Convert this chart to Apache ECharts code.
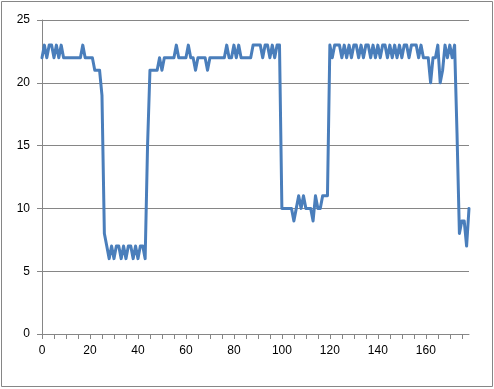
<!DOCTYPE html>
<html>
<head>
<meta charset="utf-8">
<script src="https://cdn.jsdelivr.net/npm/echarts@6/dist/echarts.min.js"></script>
<style>
html,body{margin:0;padding:0;background:#fff;}
#c{width:494px;height:389px;}
</style>
</head>
<body>
<div id="c"></div>
<script>
// category labels 0..178
const categories = [];
for (let i = 0; i <= 178; i++) categories.push(String(i));

// series values
const seg1 = [22,23,22,23,23,22,23,22,23,22, 22,22,22,22,22,22,22,23,22,22, 22,22,21,21,21,19,8,7,6,7];
const seg2 = [6,7,7,6,7,6,7,7,6,7, 6,7,7,6,15,21,21,21,21,22, 21,22,22,22,22,22,23,22,22,22];
const seg3 = [22,23,22,22,21,22,22,22,22,21, 22,22,22,22,22,22,22,23,22,22, 23,22,23,22,22,22,22,22,23,23];
const seg4 = [23,23,22,23,23,22,23,22,23,23, 10,10,10,10,10,9,10,11,10,11, 10,10,10,9,11,10,10,11,11,11];
const seg5 = [23,22,23,23,23,22,23,22,23,22, 23,23,22,23,22,23,23,22,23,22, 23,22,23,23,22,23,22,23,22,23];
const seg6 = [22,23,23,22,23,23,23,22,23,22, 22,22,20,22,22,23,20,21,23,22, 23,22,23,16,8,9,9,7,10];
const values = [].concat(seg1, seg2, seg3, seg4, seg5, seg6);

const yTicks = { min: 0, max: 25, interval: 5 };

const chart = echarts.init(document.getElementById('c'), null, {renderer: 'canvas'});
const labelFont = {fontFamily: '"Liberation Sans", Arial, sans-serif', fontSize: 12, color: '#000'};
chart.setOption({
  animation: false,
  backgroundColor: '#fff',
  grid: {left: 42, right: 25, top: 20, bottom: 55, containLabel: false},
  graphic: [{
    type: 'rect', silent: true,
    shape: {x: 1.5, y: 1.5, width: 491, height: 385},
    style: {fill: 'none', stroke: '#868686', lineWidth: 1}
  }],
  xAxis: {
    type: 'category',
    data: categories,
    boundaryGap: false,
    axisLine: {lineStyle: {color: '#868686', width: 1}},
    axisTick: {show: true, interval: 4, length: 5, inside: false, lineStyle: {color: '#868686'}},
    axisLabel: Object.assign({interval: 19, margin: 11}, labelFont),
    splitLine: {show: false}
  },
  yAxis: {
    type: 'value',
    min: yTicks.min, max: yTicks.max, interval: yTicks.interval,
    axisLine: {show: true, lineStyle: {color: '#868686', width: 1}},
    axisTick: {show: true, length: 5, lineStyle: {color: '#868686'}},
    axisLabel: Object.assign({margin: 12}, labelFont),
    splitLine: {show: true, lineStyle: {color: '#868686', width: 1}}
  },
  series: [{
    type: 'line',
    data: values,
    showSymbol: false,
    symbol: 'none',
    lineStyle: {color: '#4A7EBB', width: 3, join: 'round', cap: 'round'},
    itemStyle: {color: '#4A7EBB'}
  }]
});
</script>
</body>
</html>
